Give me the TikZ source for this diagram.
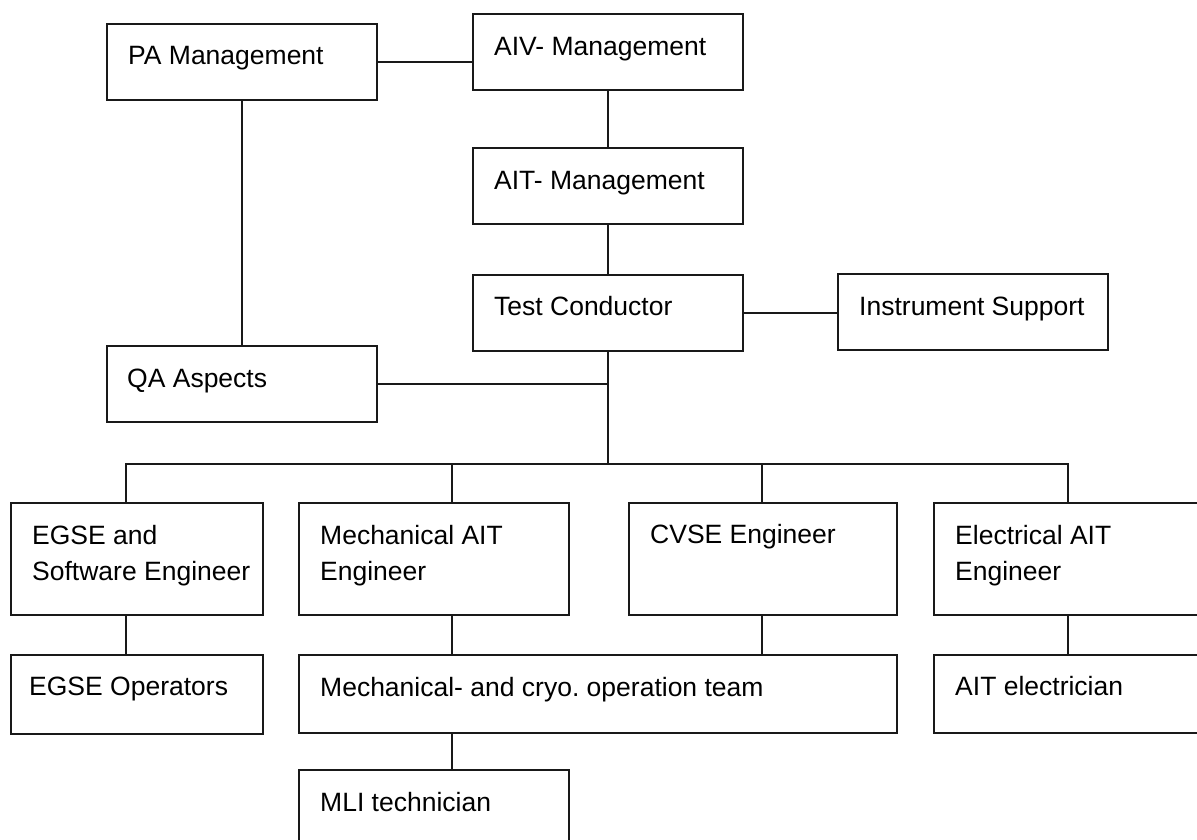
\documentclass[tikz,border=0pt]{standalone}
\usepackage{fontspec}
\setmainfont{Liberation Sans}
\usetikzlibrary{calc}
\frenchspacing
\begin{document}
\begin{tikzpicture}[x=1pt,y=-1pt,
  box/.style={draw=black!90, line width=2pt, rectangle, inner sep=0pt, anchor=north west},
  lbl/.style={anchor=base west, inner sep=0pt, font=\fontsize{26.5}{32}\selectfont, text=black},
  conn/.style={draw=black!90, line width=2pt, line cap=rect}]
\useasboundingbox[fill=white] (0,0) rectangle (1197,839);
% boxes
\node[box, minimum width=270pt, minimum height=76pt] (pa) at (106,23) {};
\node[box, minimum width=270pt, minimum height=76pt] (aiv) at (472,13) {};
\node[box, minimum width=270pt, minimum height=76pt] (ait) at (472,147) {};
\node[box, minimum width=270pt, minimum height=76pt] (tc) at (472,274) {};
\node[box, minimum width=270pt, minimum height=76pt] (is) at (837,273) {};
\node[box, minimum width=270pt, minimum height=76pt] (qa) at (106,345) {};
\node[box, minimum width=252pt, minimum height=112pt] (egse) at (10,502) {};
\node[box, minimum width=270pt, minimum height=112pt] (mech) at (298,502) {};
\node[box, minimum width=268pt, minimum height=112pt] (cvse) at (628,502) {};
\node[box, minimum width=268pt, minimum height=112pt] (elec) at (933,502) {};
\node[box, minimum width=252pt, minimum height=79pt] (ops) at (10,654) {};
\node[box, minimum width=598pt, minimum height=78pt] (cryo) at (298,654) {};
\node[box, minimum width=268pt, minimum height=78pt] (aitel) at (933,654) {};
\node[box, minimum width=270pt, minimum height=72pt] (mli) at (298,769) {};
% labels
\node[lbl] (tpa) at ($(pa.north west)+(22,41)$) {PA Management};
\node[lbl] (taiv) at ($(aiv.north west)+(22,42)$) {AIV- Management};
\node[lbl] (tait) at ($(ait.north west)+(22,42)$) {AIT- Management};
\node[lbl] (ttc) at ($(tc.north west)+(22,41)$) {Test Conductor};
\node[lbl] (tis) at ($(is.north west)+(22,42)$) {Instrument Support};
\node[lbl] (tqa) at ($(qa.north west)+(21,42)$) {QA Aspects};
\node[lbl] (tegsea) at ($(egse.north west)+(22,42)$) {EGSE and};
\node[lbl] (tegseb) at ($(egse.north west)+(22,78)$) {Software Engineer};
\node[lbl] (tmecha) at ($(mech.north west)+(22,42)$) {Mechanical AIT};
\node[lbl] (tmechb) at ($(mech.north west)+(22,78)$) {Engineer};
\node[lbl] (tcvse) at ($(cvse.north west)+(22,41)$) {CVSE Engineer};
\node[lbl] (telea) at ($(elec.north west)+(22,42)$) {Electrical AIT};
\node[lbl] (teleb) at ($(elec.north west)+(22,78)$) {Engineer};
\node[lbl] (tops) at ($(ops.north west)+(19,41)$) {EGSE Operators};
\node[lbl] (tcryo) at ($(cryo.north west)+(22,42)$) {Mechanical- and cryo. operation team};
\node[lbl] (taitel) at ($(aitel.north west)+(22,41)$) {AIT electrician};
\node[lbl] (tmli) at ($(mli.north west)+(22,42)$) {MLI technician};
% bus coordinates
\coordinate (bus) at (607,464);
\coordinate (busL) at (126,464);
\coordinate (busM) at (452,464);
\coordinate (busC) at (762,464);
\coordinate (busR) at (1068,464);
% connectors
\draw[conn] (pa.east) -- (pa.east -| aiv.west);
\draw[conn] (pa.south) -- (pa.south |- qa.north);
\draw[conn] (aiv.south) -- (ait.north);
\draw[conn] (ait.south) -- (tc.north);
\draw[conn] (tc.east) -- (tc.east -| is.west);
\draw[conn] (tc.south) -- (tc.south |- bus);
\draw[conn] (qa.east) -- (qa.east -| tc.south);
\draw[conn] (busL |- egse.north) -- (busL) -- (busR) -- (busR |- elec.north);
\draw[conn] (busM) -- (busM |- mech.north);
\draw[conn] (busC) -- (busC |- cvse.north);
\draw[conn] (egse.south -| busL) -- (ops.north -| busL);
\draw[conn] (mech.south -| busM) -- (cryo.north -| busM);
\draw[conn] (cvse.south -| busC) -- (cryo.north -| busC);
\draw[conn] (elec.south -| busR) -- (aitel.north -| busR);
\draw[conn] (cryo.south -| busM) -- (mli.north -| busM);
\end{tikzpicture}
\end{document}
